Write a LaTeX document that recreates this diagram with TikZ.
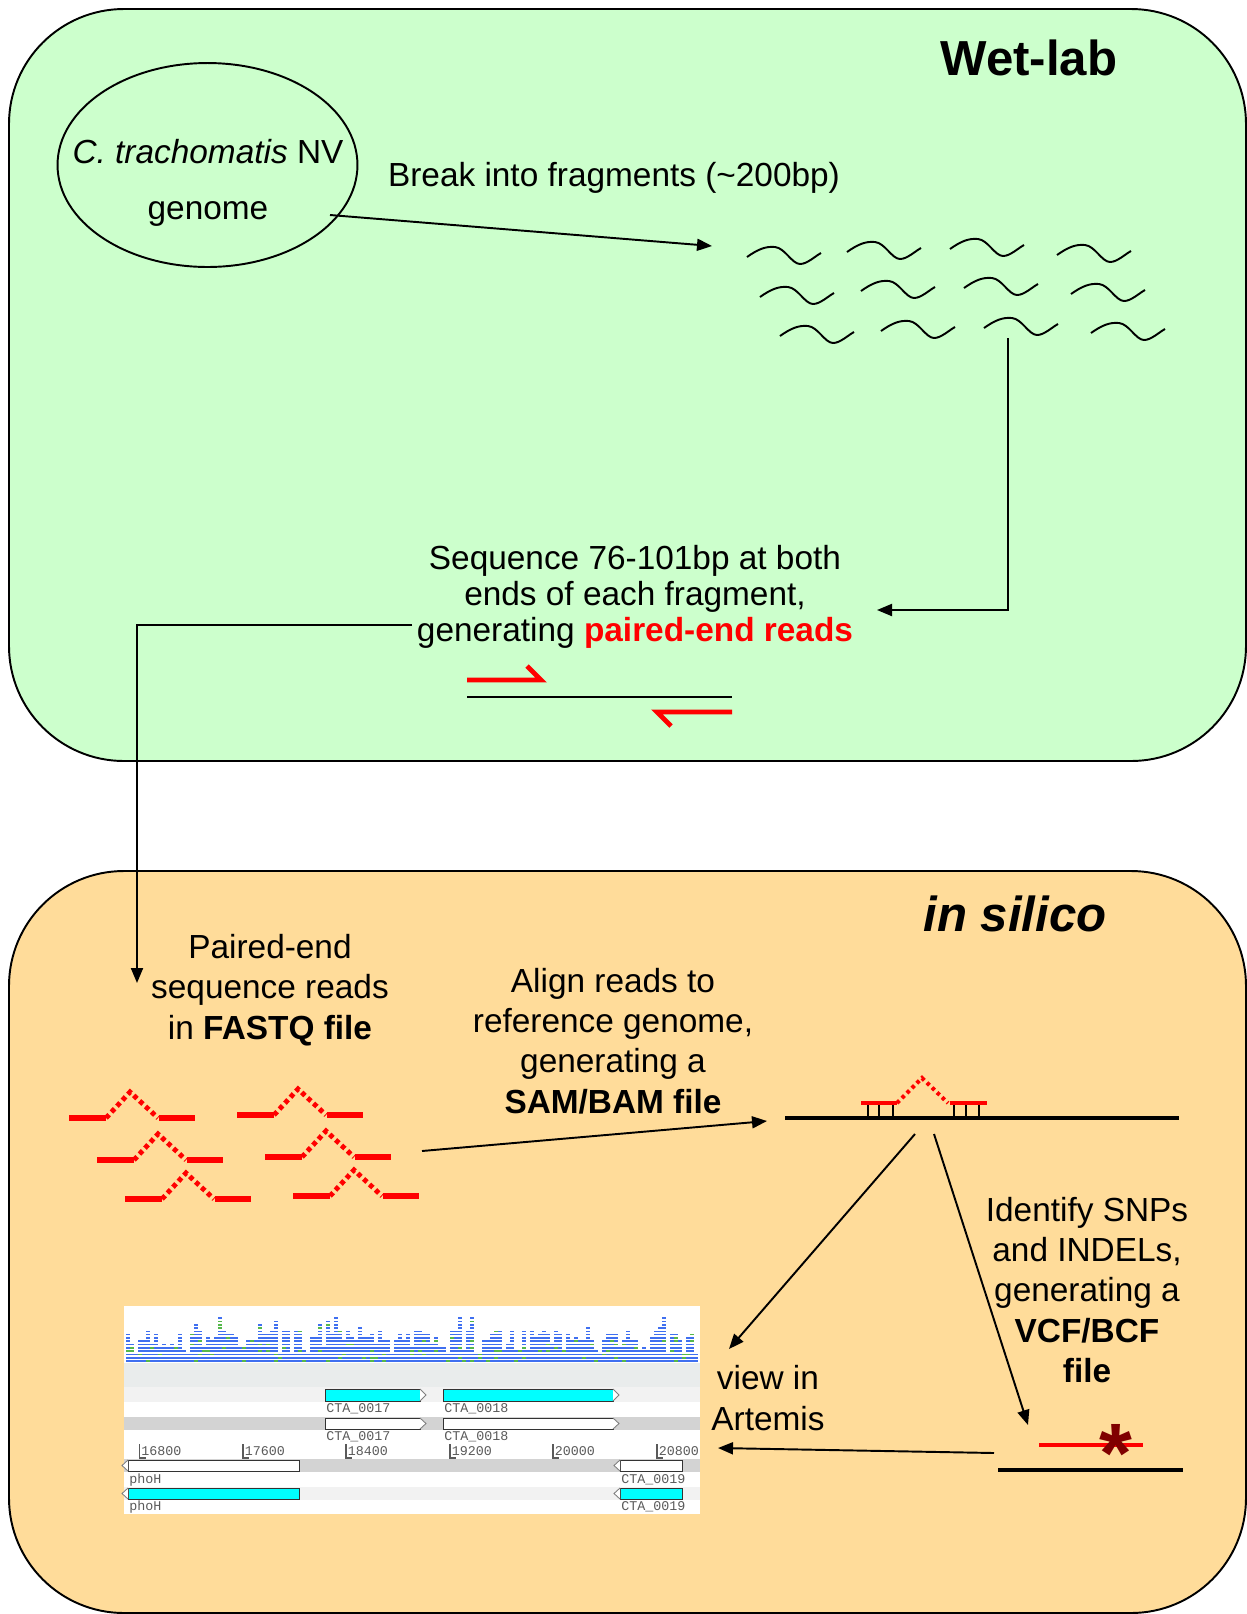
\documentclass[tikz,border=0pt]{standalone}
\usepackage{fontspec}
\setmainfont{Liberation Sans}
\newfontfamily\artmono{Liberation Mono}
\usetikzlibrary{arrows.meta,shapes.geometric}
\definecolor{wetgreen}{HTML}{CCFFCC}
\definecolor{silorange}{HTML}{FFDC9A}
\definecolor{readred}{HTML}{FF0000}
\definecolor{stardark}{HTML}{800000}
\definecolor{genecyan}{HTML}{00FFFF}
\definecolor{covblue}{HTML}{3F6FF0}
\definecolor{covgreen}{HTML}{55B84A}
\definecolor{artlbl}{HTML}{5A5A5A}
\definecolor{stripdark}{HTML}{D3D3D3}
\definecolor{striplight}{HTML}{F2F2F2}
\definecolor{covband}{HTML}{E9ECEC}
\newcommand\fwdgene[5]{%
  \draw[genebox, fill=#5] (#1,#3) rectangle (#2,#4);
  \draw[genetip] (#2,#3) -- ({#2+6},{(#3+#4)/2}) -- (#2,#4);}
\newcommand\revgene[5]{%
  \draw[genebox, fill=#5] (#1,#3) rectangle (#2,#4);
  \draw[genetip] (#1,#3) -- ({#1-6},{(#3+#4)/2}) -- (#1,#4);}
\begin{document}
\begin{tikzpicture}[x=0.02cm,y=-0.02cm,
  txt/.style={font=\fontsize{19}{20.5}\selectfont, align=center, inner sep=0pt},
  txtb/.style={font=\fontsize{19}{23}\selectfont, align=center, inner sep=0pt},
  titletext/.style={font=\fontsize{28}{30}\selectfont\bfseries, inner sep=0pt},
  conn/.style={line width=1.1pt, -{Triangle[length=0.3cm,width=0.24cm]}},
  panel/.style={draw=black, line width=1.1pt, rounded corners=2.3cm},
  redbar/.style={readred, line width=3.1pt},
  reddot/.style={readred, line width=2.8pt, dash pattern=on 2.6pt off 2pt},
  genebox/.style={draw=black!80, line width=0.5pt},
  genetip/.style={draw=gray, line width=0.5pt, fill=white},
  artlabel/.style={font=\artmono\fontsize{7.6}{8}\selectfont, text=artlbl, inner sep=0pt, anchor=west},
  pics/frag/.style={code={\draw[line width=1.1pt] (0,0) .. controls (10,-7) and (18,-11) .. (28,-10) .. controls (38,-9) and (45,7) .. (53,7) .. controls (60,7) and (67,0) .. (74,-4);}},
  pics/readpair/.style={code={
    \draw[redbar] (0,0)--(37,0);
    \draw[reddot] (37,0)--(61,-26)--(89,0);
    \draw[redbar] (90,0)--(126,0);}}
]
\useasboundingbox (0,0) rectangle (1247,1614);

% panels
\draw[panel, fill=wetgreen] (9,9) rectangle (1246,761);
\draw[panel, fill=silorange] (9,871) rectangle (1246,1613);

\node[titletext] (wetlab) at (1029,58) {Wet-lab};
\node[titletext] (insilico) at (1015,914) {\itshape in silico};

% genome ellipse
\node[ellipse, draw, line width=1.1pt, minimum width=6cm, minimum height=4.08cm, inner sep=0pt] (genome) at (207.5,165) {};
\node[txt] (genometext) at (208,183) {\textit{C. trachomatis} NV\\[11pt]genome};

\node[txt] (breaktext) at (614,178) {Break into fragments (\textasciitilde200bp)};

% fragments
\foreach \px/\py [count=\k] in {747/257,847/252,950/249,1057/255,760/297,861/291,964/288,1071/294,780/336,881/331,984/328,1091/333}
  \pic (frag\k) at (\px,\py) {frag};

\coordinate (brkstart) at (330,215);
\coordinate (brkend) at (712,246);
\draw[conn] (brkstart) -- (brkend);

% sequencing
\node[txt] (seqtext) at (635,597) {Sequence 76-101bp at both\\ends of each fragment,\\generating \textbf{\color{readred}paired-end reads}};
\coordinate (wavefoot) at (1008,338);
\coordinate (seqright) at (877,610);
\draw[conn] (wavefoot) |- (seqright);

% paired-end sketch
\coordinate (peL) at (467,697);
\coordinate (peR) at (732,697);
\draw[line width=1.1pt] (peL) -- (peR);
\draw[readred, line width=2.8pt, miter limit=10] (467,680) -- (541,680) -- (527,666);
\draw[readred, line width=2.8pt, miter limit=10] (732,712) -- (657,712) -- (671,726);

% link to in silico
\coordinate (seqleft) at (412,625);
\coordinate (fastqtip) at (137,983);
\draw[conn] (seqleft) -| (fastqtip);

% in silico texts
\node[txtb] (fastq) at (270,990) {Paired-end\\sequence reads\\in \textbf{FASTQ file}};
\node[txtb] (aligntext) at (613,1041) {Align reads to\\reference genome,\\generating a\\\textbf{SAM/BAM file}};
\node[txtb] (snptext) at (1087,1290) {Identify SNPs\\and INDELs,\\generating a\\\textbf{VCF/BCF}\\\textbf{file}};
\node[txtb] (viewtext) at (768,1398) {view in\\Artemis};

% reads
\foreach \px/\py [count=\k] in {69/1118,237/1115,97/1160,265/1157,125/1199,293/1196}
  \pic (read\k) at (\px,\py) {readpair};

% alignment
\draw[line width=2.3pt] (785,1118) -- (1179,1118);
\foreach \tx in {868,879,893,954,966,979}
  \draw[line width=1.1pt] (\tx,1103) -- (\tx,1118);
\draw[readred, line width=2.3pt] (861,1103) -- (897,1103);
\draw[readred, line width=2.3pt] (950,1103) -- (987,1103);
\draw[readred, line width=2.3pt, dash pattern=on 2pt off 2pt] (897,1103) -- (922,1078) -- (948,1103);

\coordinate (readsend) at (422,1151);
\coordinate (alignin) at (767,1121);
\draw[conn] (readsend) -- (alignin);
\coordinate (alnA) at (915,1134);
\coordinate (alnB) at (934,1134);
\coordinate (artin) at (729,1349);
\coordinate (vcfin) at (1028,1425);
\draw[conn] (alnA) -- (artin);
\draw[conn] (alnB) -- (vcfin);

% VCF sketch
\draw[line width=2.8pt] (998,1470) -- (1183,1470);
\draw[readred, line width=2.8pt] (1039,1445) -- (1143,1445);
\node[font=\fontsize{48}{48}\selectfont\bfseries, text=stardark, inner sep=0pt, anchor=base] (snpstar) at (1116,1482) {*};
\coordinate (vcfout) at (994,1453);
\coordinate (artin2) at (718,1448);
\draw[conn] (vcfout) -- (artin2);

% Artemis screenshot
\fill[white] (124,1306) rectangle (700,1514);
\fill[covband] (124,1363) rectangle (700,1387);
\fill[striplight] (124,1387) rectangle (700,1402);
\fill[stripdark] (124,1417) rectangle (700,1430);
\fill[stripdark] (124,1459) rectangle (700,1472);
\fill[striplight] (124,1487) rectangle (700,1500);
\pgfmathsetseed{2718}
\foreach \i in {0,...,142} {
  \pgfmathsetmacro{\cx}{126+4*\i}
  \pgfmathrandominteger{\hh}{3}{10}
  \pgfmathrandominteger{\sp}{1}{6}
  \ifnum\sp=1 \pgfmathtruncatemacro{\hh}{\hh+4}\fi
  \foreach \j in {1,...,\hh} {
    \pgfmathrandominteger{\cc}{1}{10}
    \ifnum\cc=1 \def\ccol{covgreen}\else\def\ccol{covblue}\fi
    \draw[\ccol, line width=0.9pt] (\cx,{1361-3.3*(\j-1)}) -- ++(3.6,0);
  }
}
\fwdgene{325}{420}{1389}{1401}{genecyan}
\fwdgene{443}{613}{1389}{1401}{genecyan}
\fwdgene{325}{420}{1418}{1429}{white}
\fwdgene{443}{613}{1418}{1429}{white}
\revgene{128}{299}{1460}{1471}{white}
\revgene{620}{682}{1460}{1471}{white}
\revgene{128}{299}{1488}{1499}{genecyan}
\revgene{620}{682}{1488}{1499}{genecyan}
\node[artlabel] (l1) at (326,1409) {CTA\_0017};
\node[artlabel] (l2) at (444,1409) {CTA\_0018};
\node[artlabel] (l3) at (326,1437) {CTA\_0017};
\node[artlabel] (l4) at (444,1437) {CTA\_0018};
\node[artlabel] (l5) at (129,1480) {phoH};
\node[artlabel] (l6) at (621,1480) {CTA\_0019};
\node[artlabel] (l7) at (129,1507) {phoH};
\node[artlabel] (l8) at (621,1507) {CTA\_0019};
\foreach \x/\t in {139.5/16800,243/17600,346/18400,450/19200,553/20000,657/20800} {
  \draw[artlbl, line width=0.6pt] (\x,1444) -- (\x,1458) -- ({\x+6},1458);
  \node[artlabel] at ({\x+1.5},1451) {\t};
}
\end{tikzpicture}
\end{document}
